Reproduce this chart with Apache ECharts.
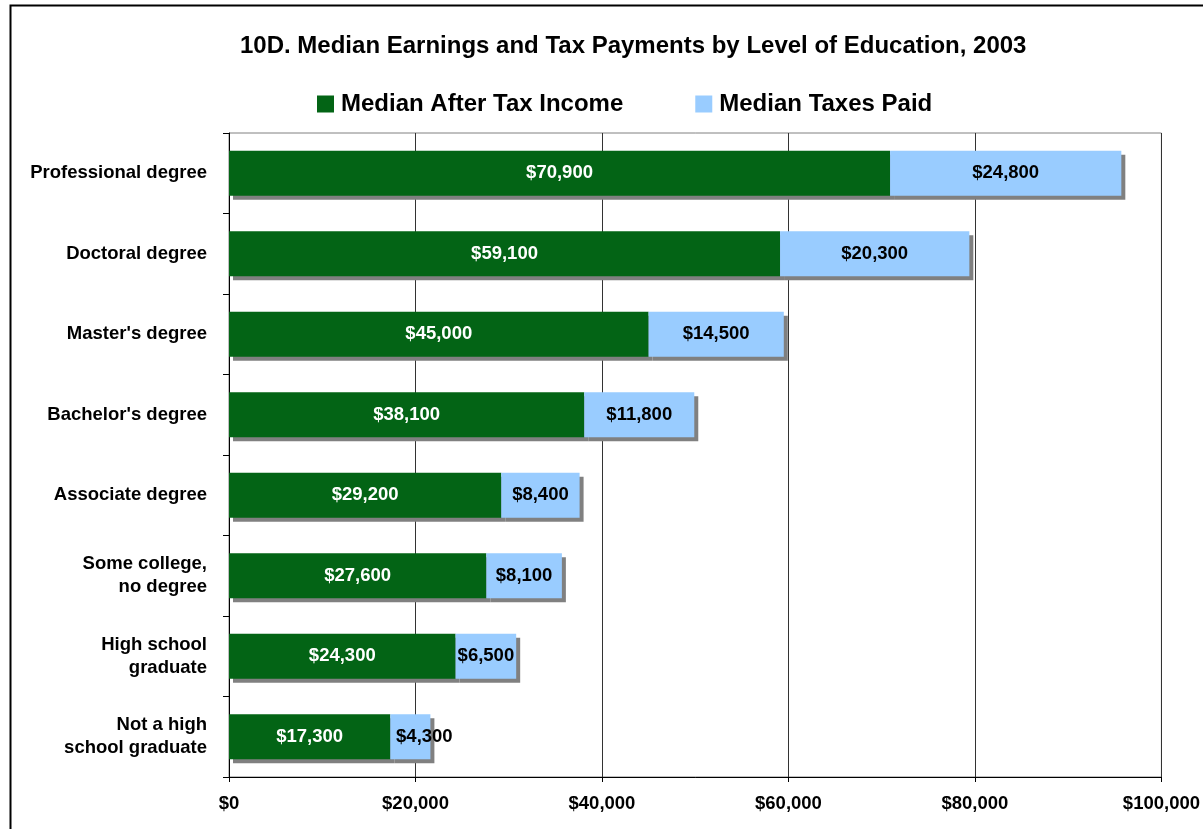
<!DOCTYPE html>
<html>
<head>
<meta charset="utf-8">
<script src="https://cdn.jsdelivr.net/npm/echarts@6/dist/echarts.min.js"></script>
<style>
  html, body { margin: 0; padding: 0; background: #fff; }
  #chart { width: 1203px; height: 829px; }
</style>
</head>
<body>
<div id="chart"></div>
<script>
var categories = [
  "Professional degree",
  "Doctoral degree",
  "Master's degree",
  "Bachelor's degree",
  "Associate degree",
  "Some college,\nno degree",
  "High school\ngraduate",
  "Not a high\nschool graduate"
];
var afterTax = [70900, 59100, 45000, 38100, 29200, 27600, 24300, 17300];
var taxesPaid = [24800, 20300, 14500, 11800, 8400, 8100, 6500, 4300];
var xTicks = [0, 20000, 40000, 60000, 80000, 100000];

var font = "Liberation Sans, Arial, sans-serif";
function money(v) {
  return "$" + v.toLocaleString("en-US");
}

var myChart = echarts.init(document.getElementById("chart"));
var shadow = {
  shadowColor: "#808080",
  shadowBlur: 0,
  shadowOffsetX: 4,
  shadowOffsetY: 4
};

// the narrowest tax bar has its label pushed a bit right, as in the original
var taxData = taxesPaid.map(function (v) {
  return v < 5000 ? { value: v, label: { offset: [14, 0] } } : v;
});

var option = {
  animation: false,
  textStyle: { fontFamily: font },
  graphic: [
    {
      type: "rect",
      shape: { x: 10.5, y: 5.5, width: 1210, height: 840 },
      style: { fill: "none", stroke: "#000", lineWidth: 2 },
      silent: true
    }
  ],
  title: {
    text: "10D. Median Earnings and Tax Payments by Level of Education, 2003",
    left: 235,
    top: 29,
    textStyle: { fontFamily: font, fontSize: 24, fontWeight: "bold", color: "#000" }
  },
  legend: {
    left: 312,
    top: 87,
    itemWidth: 17,
    itemHeight: 17,
    itemGap: 72,
    icon: "rect",
    textStyle: { fontFamily: font, fontSize: 24, fontWeight: "bold", color: "#000", padding: [0, 0, 0, 2] },
    data: ["Median After Tax Income", "Median Taxes Paid"]
  },
  grid: {
    left: 229,
    right: 40,
    top: 133,
    bottom: 52,
    show: true,
    borderColor: "#808080",
    borderWidth: 1
  },
  xAxis: {
    type: "value",
    min: xTicks[0],
    max: xTicks[xTicks.length - 1],
    interval: 20000,
    axisLine: { show: true, lineStyle: { color: "#000" } },
    axisTick: { show: true, length: 5, lineStyle: { color: "#000" } },
    splitLine: { show: true, lineStyle: { color: "#333" } },
    axisLabel: {
      formatter: money,
      fontFamily: font,
      fontSize: 18.5,
      fontWeight: "bold",
      color: "#000",
      margin: 17
    }
  },
  yAxis: {
    type: "category",
    inverse: true,
    data: categories,
    axisLine: { show: true, lineStyle: { color: "#000" } },
    axisTick: { show: true, length: 6, lineStyle: { color: "#000" } },
    axisLabel: {
      fontFamily: font,
      fontSize: 18.5,
      fontWeight: "bold",
      color: "#000",
      lineHeight: 23,
      align: "right",
      margin: 22
    }
  },
  series: [
    {
      name: "Median After Tax Income",
      type: "bar",
      stack: "total",
      barWidth: 45,
      data: afterTax,
      itemStyle: Object.assign({ color: "#036415" }, shadow),
      label: {
        show: true,
        position: "inside",
        formatter: function (p) { return money(p.value); },
        fontFamily: font,
        fontSize: 18.5,
        fontWeight: "bold",
        color: "#fff"
      }
    },
    {
      name: "Median Taxes Paid",
      type: "bar",
      stack: "total",
      barWidth: 45,
      data: taxData,
      itemStyle: Object.assign({ color: "#99ccff" }, shadow),
      label: {
        show: true,
        position: "inside",
        formatter: function (p) { return money(p.value); },
        fontFamily: font,
        fontSize: 18.5,
        fontWeight: "bold",
        color: "#000"
      }
    }
  ]
};
myChart.setOption(option);
</script>
</body>
</html>
